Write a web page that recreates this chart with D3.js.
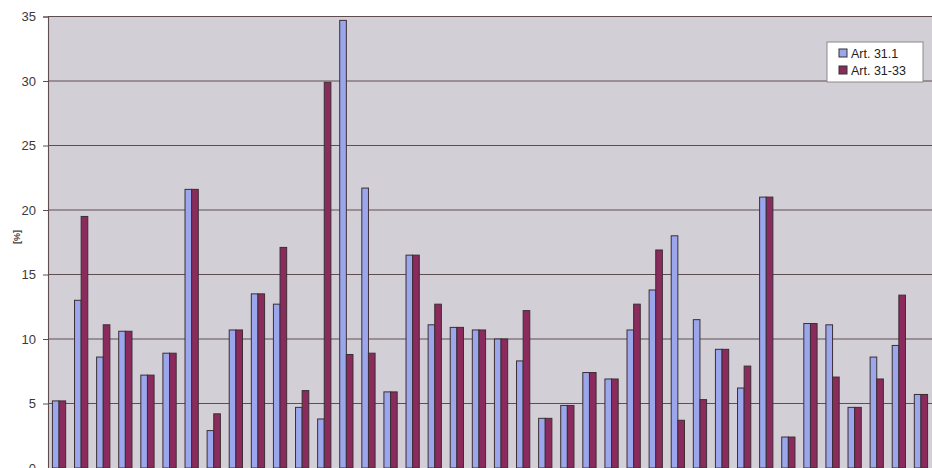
<!DOCTYPE html>
<html>
<head>
<meta charset="utf-8">
<script src="https://cdn.jsdelivr.net/npm/d3@7"></script>
<style>
  body { margin: 0; background: #fff; }
  text { font-family: "Liberation Sans", Arial, sans-serif; }
</style>
</head>
<body>
<div id="chart"></div>
<script>
// DATA
const seriesNames = ['Art. 31.1', 'Art. 31-33'];
const art311 = [5.2, 13.0, 8.6, 10.6, 7.2, 8.9, 21.6, 2.9, 10.7, 13.5,
  12.7, 4.7, 3.8, 34.7, 21.7, 5.9, 16.5, 11.1, 10.9, 10.7,
  10.0, 8.3, 3.85, 4.85, 7.4, 6.9, 10.7, 13.8, 18.0, 11.5,
  9.2, 6.2, 21.0, 2.4, 11.2, 11.1, 4.7, 8.6, 9.5, 5.7];
const art3133 = [5.2, 19.5, 11.1, 10.6, 7.2, 8.9, 21.6, 4.2, 10.7, 13.5,
  17.1, 6.0, 29.9, 8.8, 8.9, 5.9, 16.5, 12.7, 10.9, 10.7,
  10.0, 12.2, 3.85, 4.85, 7.4, 6.9, 12.7, 16.9, 3.7, 5.3,
  9.2, 7.9, 21.0, 2.4, 11.2, 7.05, 4.7, 6.9, 13.4, 5.7];
const yTicks = [0, 5, 10, 15, 20, 25, 30, 35];

const colors = ['#9ca6ec', '#8b2a5c'];

// CHART
const W = 932, H = 468;
const plot = {left: 48, top: 16.5, right: 940, bottom: 468};

const svg = d3.select('#chart').append('svg')
  .attr('width', W)
  .attr('height', H);

const groups = d3.range(art311.length);
const x0 = d3.scaleBand()
  .domain(groups)
  .range([plot.left, 932])
  .paddingInner(0.4)
  .paddingOuter(0.2);
const x1 = d3.scaleBand()
  .domain([0, 1])
  .range([0, x0.bandwidth()]);
const y = d3.scaleLinear()
  .domain([0, 35])
  .range([plot.bottom, plot.top]);

// plot background
svg.append('rect')
  .attr('x', plot.left).attr('y', plot.top)
  .attr('width', plot.right - plot.left)
  .attr('height', plot.bottom - plot.top)
  .style('fill', '#d3cfd6');

// gridlines
svg.append('g')
  .selectAll('line')
  .data(yTicks.filter(d => d > 0))
  .enter().append('line')
  .attr('x1', plot.left).attr('x2', plot.right)
  .attr('y1', d => y(d)).attr('y2', d => y(d))
  .style('stroke', '#5e4e52')
  .style('stroke-width', 1.1);

// y axis
const yAxis = svg.append('g')
  .attr('transform', 'translate(' + plot.left + ',0)')
  .call(d3.axisLeft(y).tickValues(yTicks).tickSize(5).tickPadding(7));
yAxis.select('.domain').style('stroke', '#5e4e52').style('stroke-width', 1.1);
yAxis.selectAll('.tick line').style('stroke', '#5e4e52');
yAxis.selectAll('.tick text')
  .style('font-size', '13px')
  .style('fill', '#3a3a3a');

svg.append('text')
  .attr('transform', 'translate(20,237) rotate(-90)')
  .attr('text-anchor', 'middle')
  .style('font-size', '9px')
  .style('font-weight', 'bold')
  .style('fill', '#444')
  .text('[%]');

// bars
const rows = groups.map(i => ({i: i, vals: [art311[i], art3133[i]]}));
const g = svg.append('g').selectAll('g')
  .data(rows)
  .enter().append('g')
  .attr('transform', d => 'translate(' + x0(d.i) + ',0)');

g.selectAll('rect')
  .data(d => d.vals.map((v, k) => ({k: k, v: v})))
  .enter().append('rect')
  .attr('x', d => x1(d.k))
  .attr('y', d => y(d.v))
  .attr('width', x1.bandwidth())
  .attr('height', d => y(0) - y(d.v))
  .style('fill', d => colors[d.k])
  .style('stroke', '#3a2f33')
  .style('stroke-width', 1);

// legend
const legend = svg.append('g').attr('transform', 'translate(827,42)');
legend.append('rect')
  .attr('width', 96).attr('height', 40)
  .style('fill', '#fff')
  .style('stroke', '#8a8a8a');
seriesNames.forEach(function(name, k) {
  legend.append('rect')
    .attr('x', 12).attr('y', 7 + k * 17)
    .attr('width', 8).attr('height', 8)
    .style('fill', colors[k])
    .style('stroke', '#333');
  legend.append('text')
    .attr('x', 24).attr('y', 16 + k * 17)
    .style('font-size', '12.5px')
    .style('fill', '#222')
    .text(name);
});
</script>
</body>
</html>
